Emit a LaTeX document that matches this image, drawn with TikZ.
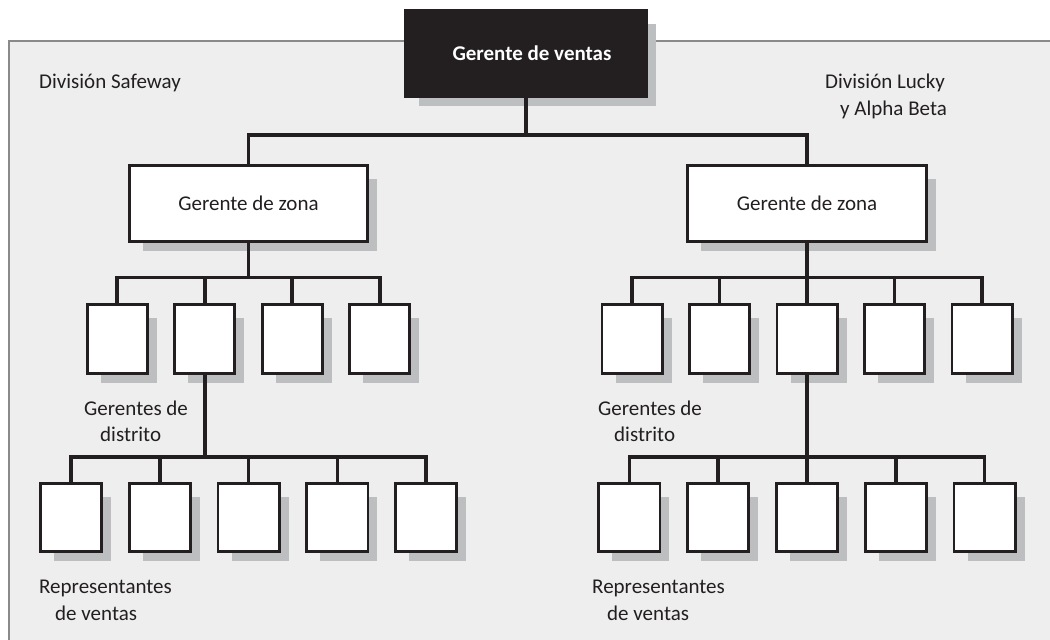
\documentclass[tikz,border=0pt]{standalone}
\usepackage{fontspec}
\setmainfont{Carlito}
\usetikzlibrary{calc}
\definecolor{dk}{HTML}{231F20}
\definecolor{shd}{HTML}{BCBEC0}
\definecolor{pnl}{HTML}{EEEEEE}
\definecolor{pbord}{HTML}{8A8A8A}
\pgfdeclarelayer{back}
\pgfdeclarelayer{shade}
\pgfsetlayers{back,shade,main}
\begin{document}
\begin{tikzpicture}[x=1pt,y=-1pt,
  font=\fontsize{21}{26.5}\selectfont, text=dk,
  box/.style={draw=dk, fill=white, line width=2.8pt, inner sep=0pt,
    text height=13.5pt, text depth=0pt},
  topbox/.style={box, fill=dk, text=white,
    font=\fontsize{21}{26.5}\selectfont\bfseries,
    minimum width=241.2pt, minimum height=86.2pt},
  zonebox/.style={box, minimum width=238.7pt, minimum height=76.2pt},
  dbox/.style={box, minimum width=60.2pt, minimum height=69.2pt},
  rbox/.style={box, minimum width=61.2pt, minimum height=68.2pt},
  conn/.style={draw=dk, line width=3.6pt},
  lbl/.style={anchor=base west, inner sep=0pt}]
\useasboundingbox (0,0) rectangle (1050,640);

% boxes
\node[topbox] (top) at (526,53.5) {\hspace*{12pt}Gerente de ventas};
\node[zonebox] (zl) at (248.5,203.5) {Gerente de zona};
\node[zonebox] (zr) at (807,203.5) {Gerente de zona};
\foreach \i/\x in {1/117.25,2/204.75,3/292.25,4/379.75}
  \node[dbox] (dl\i) at (\x,339) {};
\foreach \i/\x in {1/632,2/719.5,3/807,4/894.5,5/982}
  \node[dbox] (dr\i) at (\x,339) {};
\foreach \i/\x in {1/70.9,2/159.7,3/248.5,4/337.3,5/426.1}
  \node[rbox] (rl\i) at (\x,517.5) {};
\foreach \i/\x in {1/629.4,2/718.2,3/807,4/895.8,5/984.6}
  \node[rbox] (rr\i) at (\x,517.5) {};

% labels
\node[lbl] (divS) at (39,88) {División Safeway};
\node[lbl] (divL1) at (825,88) {División Lucky};
\node[lbl] (divL2) at (840,115) {y Alpha Beta};
\node[lbl] (gdL1) at (84,415) {Gerentes de};
\node[lbl] (gdL2) at (100,441.5) {distrito};
\node[lbl] (rvL1) at (39,593) {Representantes};
\node[lbl] (rvL2) at (55,620) {de ventas};
\node[lbl] (gdR1) at (598,415) {Gerentes de};
\node[lbl] (gdR2) at (614,441.5) {distrito};
\node[lbl] (rvR1) at (592,593) {Representantes};
\node[lbl] (rvR2) at (607,620) {de ventas};

% connectors
\coordinate (j0) at (526,135);
\draw[conn] (top.south) -- (j0);
\draw[conn] (zl.north) |- (j0) -| (zr.north);

\coordinate (j1) at (248.5,277.5);
\draw[conn] (zl.south) -- (j1);
\draw[conn] (dl1.north) |- (j1) -| (dl4.north);
\foreach \i in {2,3} \draw[conn] (dl\i.north) -- (dl\i.north |- j1);

\coordinate (j2) at (807,277.5);
\draw[conn] (zr.south) -- (j2);
\draw[conn] (dr1.north) |- (j2) -| (dr5.north);
\foreach \i in {2,3,4} \draw[conn] (dr\i.north) -- (dr\i.north |- j2);

\coordinate (j3) at (204.75,457);
\draw[conn] (dl2.south) -- (j3);
\draw[conn] (rl1.north) |- (j3) -| (rl5.north);
\foreach \i in {2,3,4} \draw[conn] (rl\i.north) -- (rl\i.north |- j3);

\coordinate (j4) at (807,457);
\draw[conn] (dr3.south) -- (j4);
\draw[conn] (rr1.north) |- (j4) -| (rr5.north);
\foreach \i in {2,3,4} \draw[conn] (rr\i.north) -- (rr\i.north |- j4);

% shadows
\begin{pgfonlayer}{shade}
\foreach \n in {top,zl,zr,dl1,dl2,dl3,dl4,dr1,dr2,dr3,dr4,dr5,
                rl1,rl2,rl3,rl4,rl5,rr1,rr2,rr3,rr4,rr5}
  \fill[shd] ($(\n.north west)+(15,15)$) rectangle ($(\n.south east)+(8,8)$);
\end{pgfonlayer}

% panel
\begin{pgfonlayer}{back}
\fill[pnl] (9,41) rectangle (1050,640);
\draw[pbord, line width=2pt] (9,640) -- (9,41) -- (1050,41);
\end{pgfonlayer}
\end{tikzpicture}
\end{document}
